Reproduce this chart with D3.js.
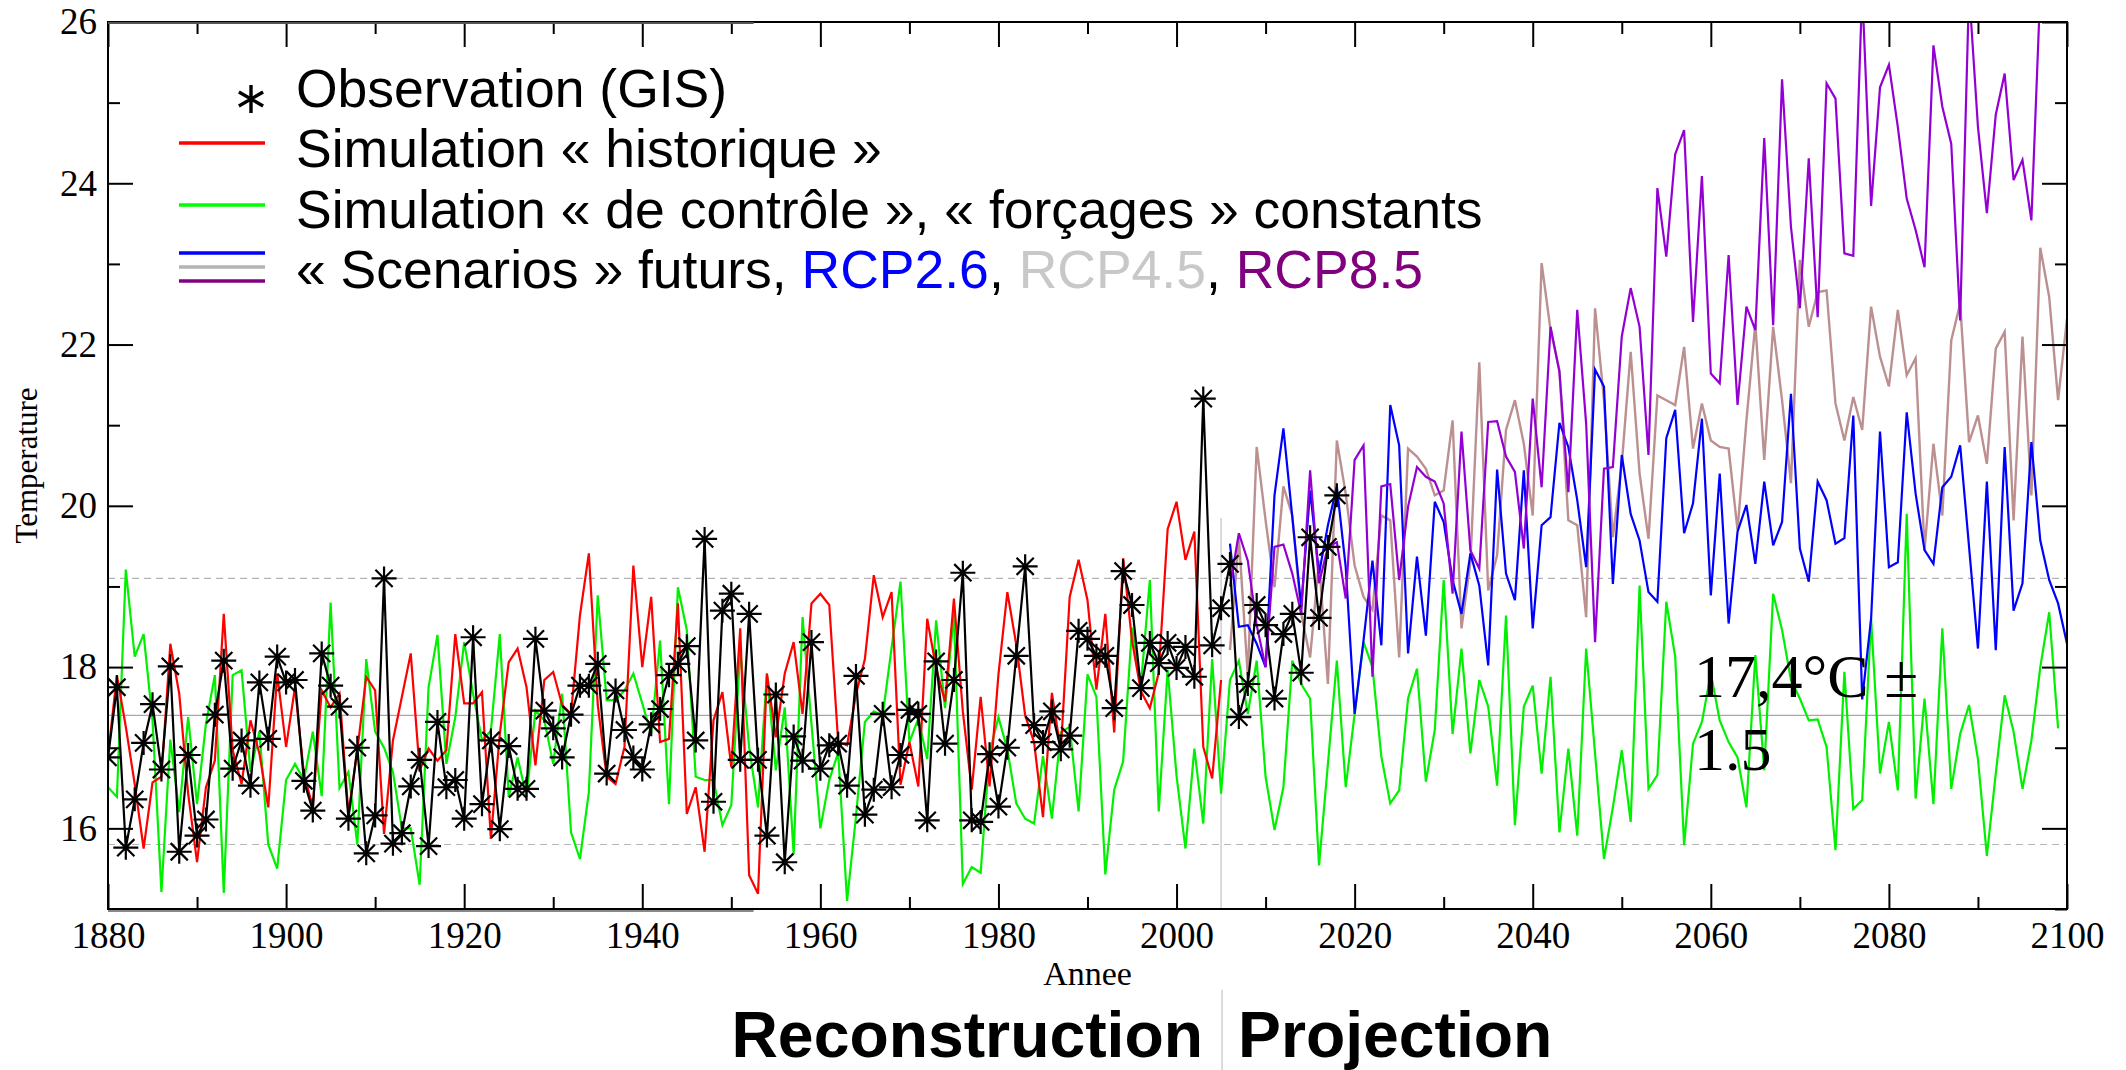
<!DOCTYPE html>
<html>
<head>
<meta charset="utf-8">
<script src="https://cdn.jsdelivr.net/npm/d3@7"></script>
<style>
  html, body { margin: 0; padding: 0; background: #ffffff; }
  svg { display: block; }
</style>
</head>
<body>
<svg id="chart" width="2126" height="1070"></svg>
<script>
// ---------- data (annual mean temperature, °C) ----------
const observationStart = 1880;
const observation = [
  16.88, 17.75, 15.76, 16.36, 17.06, 17.54, 16.73, 18.01, 15.71, 16.91,
  15.91, 16.11, 17.41, 18.08, 16.74, 17.09, 16.53, 17.81, 17.11, 18.13,
  17.81, 17.84, 16.59, 16.22, 18.17, 17.77, 17.51, 16.12, 17.00, 15.69,
  16.16, 19.10, 15.81, 15.94, 16.52, 16.85, 15.78, 17.32, 16.51, 16.60,
  16.12, 18.37, 16.30, 17.09, 15.99, 17.02, 16.49, 16.49, 18.35, 17.46,
  17.24, 16.88, 17.41, 17.77, 17.77, 18.04, 16.68, 17.71, 17.22, 16.88,
  16.73, 17.29, 17.48, 17.90, 18.04, 18.26, 17.09, 19.59, 16.33, 18.70,
  18.91, 16.85, 18.66, 16.85, 15.91, 17.66, 15.58, 17.14, 16.84, 18.31,
  16.74, 17.03, 17.05, 16.53, 17.89, 16.17, 16.48, 17.42, 16.51, 16.91,
  17.47, 17.42, 16.10, 18.07, 17.05, 17.84, 19.17, 16.10, 16.08, 16.92,
  16.27, 17.00, 18.14, 19.25, 17.28, 17.07, 17.45, 16.98, 17.15, 18.45,
  18.35, 18.14, 18.14, 17.49, 19.19, 18.77, 17.74, 18.30, 18.05, 18.30,
  17.99, 18.25, 17.88, 21.33, 18.27, 18.73, 19.28, 17.38, 17.79, 18.77,
  18.52, 17.61, 18.41, 18.66, 17.93, 19.61, 18.61, 19.49, 20.13
];

const historicalStart = 1880;
const historical = [
  16.90, 17.90, 17.26, 16.55, 15.75, 16.57, 16.64, 18.29, 17.67, 16.43,
  15.58, 16.51, 16.84, 18.66, 16.97, 16.55, 17.34, 16.93, 16.26, 17.92,
  17.01, 17.75, 16.68, 16.26, 17.71, 17.50, 17.67, 16.18, 16.97, 17.88,
  17.71, 15.93, 17.09, 17.63, 18.17, 16.72, 16.99, 16.84, 16.97, 18.41,
  17.55, 17.55, 17.69, 15.87, 17.17, 18.06, 18.23, 17.75, 16.78, 17.84,
  17.94, 17.53, 17.42, 18.64, 19.41, 17.53, 16.64, 16.55, 17.01, 19.26,
  18.00, 18.87, 17.07, 17.11, 18.79, 16.18, 16.51, 15.71, 17.34, 17.69,
  16.76, 18.48, 15.42, 15.19, 17.92, 17.13, 17.92, 18.31, 17.42, 18.79,
  18.91, 18.77, 17.07, 17.03, 17.66, 18.10, 19.14, 18.62, 18.93, 16.54,
  17.07, 16.52, 18.60, 17.99, 17.57, 18.85, 17.45, 16.48, 17.63, 16.52,
  17.91, 18.93, 18.28, 17.40, 17.07, 16.14, 17.68, 16.96, 18.87, 19.33,
  18.83, 17.72, 18.66, 17.19, 19.35, 18.33, 17.70, 17.49, 17.93, 19.71,
  20.05, 19.33, 19.68, 17.01, 16.62, 17.84
];

const controlStart = 1880;
const control = [
  16.51, 16.39, 19.21, 18.13, 18.41, 17.34, 15.21, 17.10, 16.20, 17.38,
  16.30, 17.30, 17.90, 15.20, 17.90, 17.96, 16.70, 17.20, 15.80, 15.50,
  16.60, 16.80, 16.60, 17.20, 16.40, 18.80, 16.50, 16.70, 15.80, 18.10,
  17.20, 17.00, 16.70, 16.00, 16.00, 15.30, 17.75, 18.40, 16.80, 17.38,
  18.31, 17.67, 17.09, 17.21, 18.41, 16.39, 16.88, 16.39, 17.46, 17.34,
  16.80, 17.67, 15.95, 15.62, 16.45, 18.89, 17.59, 17.59, 17.71, 17.92,
  17.55, 17.17, 18.33, 16.30, 18.99, 18.46, 16.64, 16.60, 16.60, 16.04,
  16.29, 18.21, 17.01, 16.26, 17.92, 16.72, 17.50, 15.68, 18.62, 17.30,
  16.00, 16.60, 16.94, 15.10, 16.15, 17.32, 17.45, 17.40, 18.24, 19.06,
  17.07, 17.36, 16.86, 18.58, 17.49, 18.66, 15.31, 15.52, 15.45, 16.94,
  17.38, 16.98, 16.31, 16.12, 16.06, 16.90, 16.12, 17.19, 17.26, 16.21,
  17.91, 17.63, 15.43, 16.48, 16.83, 18.49, 17.78, 19.08, 16.21, 17.97,
  16.65, 15.75, 16.99, 16.06, 18.10, 16.43, 17.84, 18.08, 17.42, 18.08,
  16.64, 15.98, 16.51, 18.08, 17.79, 17.61, 15.54, 16.80, 18.08, 16.51,
  17.42, 18.31, 18.00, 16.89, 16.31, 16.47, 17.61, 17.98, 16.58, 17.22,
  19.08, 17.17, 18.23, 16.93, 17.84, 17.51, 16.53, 18.64, 16.04, 17.51,
  17.77, 16.68, 17.88, 15.95, 16.99, 15.91, 18.23, 16.93, 15.62, 16.26,
  16.97, 16.08, 19.01, 16.49, 16.66, 18.81, 18.13, 15.79, 17.05, 17.32,
  17.92, 17.34, 17.07, 16.88, 16.26, 18.15, 16.72, 18.91, 18.46, 17.84,
  17.61, 17.34, 17.35, 17.01, 15.73, 17.94, 16.24, 16.35, 18.60, 16.68,
  17.32, 16.47, 19.90, 16.37, 17.61, 16.30, 18.48, 16.49, 17.17, 17.53,
  16.86, 15.66, 16.68, 17.65, 17.20, 16.49, 17.09, 18.00, 18.68, 17.24
];

const scenarioStart = 2006;
const rcp26 = [
  19.53, 18.50, 18.52, 18.29, 18.00, 20.13, 20.96, 19.86, 18.75, 20.19,
  19.16, 19.76, 20.24, 19.24, 17.42, 18.33, 19.32, 18.27, 21.25, 20.75,
  18.17, 19.37, 18.39, 20.05, 19.80, 19.08, 18.66, 19.41, 19.01, 18.02,
  20.45, 19.16, 18.83, 20.44, 18.48, 19.76, 19.86, 21.03, 20.73, 20.07,
  19.24, 21.69, 21.48, 19.03, 20.63, 19.90, 19.57, 18.93, 18.81, 20.84,
  21.19, 19.66, 20.03, 21.08, 18.89, 20.40, 18.54, 19.68, 20.01, 19.28,
  20.30, 19.51, 19.80, 21.39, 19.47, 19.06, 20.30, 20.07, 19.53, 19.60,
  21.12, 17.60, 18.60, 20.92, 19.24, 19.30, 21.16, 20.15, 19.45, 19.28,
  20.23, 20.36, 20.75, 19.49, 18.23, 20.30, 18.21, 20.73, 18.70, 19.04,
  20.79, 19.57, 19.08, 18.79, 18.29
];
const rcp45 = [
  18.21, 19.60, 17.90, 20.73, 19.82, 18.99, 20.24, 19.88, 18.66, 18.12,
  19.32, 17.79, 20.81, 20.15, 19.26, 18.87, 18.71, 19.88, 19.82, 18.12,
  20.71, 20.61, 20.46, 20.13, 20.19, 21.06, 18.48, 19.30, 21.78, 18.95,
  19.39, 20.94, 21.31, 20.77, 19.88, 23.01, 22.18, 21.68, 19.82, 19.76,
  18.62, 22.45, 21.31, 19.61, 20.52, 21.91, 20.40, 19.59, 21.37, 21.31,
  21.25, 21.97, 20.71, 21.27, 20.81, 20.73, 20.71, 19.70, 21.06, 22.26,
  20.57, 22.22, 21.31, 20.28, 23.05, 22.22, 22.65, 22.67, 21.27, 20.81,
  21.35, 20.94, 22.47, 21.85, 21.48, 22.43, 21.62, 21.83, 19.45, 20.77,
  19.88, 22.05, 22.51, 20.79, 21.12, 20.52, 21.95, 22.16, 19.82, 22.10,
  20.13, 23.20, 22.59, 21.31, 22.32
];
const rcp85 = [
  19.00, 19.66, 19.32, 18.52, 18.00, 19.49, 19.52, 19.16, 18.66, 20.44,
  19.04, 19.49, 19.55, 18.85, 20.57, 20.75, 17.88, 20.24, 20.27, 19.08,
  19.99, 20.48, 20.36, 20.30, 20.03, 18.91, 20.92, 19.45, 19.22, 21.04,
  21.05, 20.61, 20.42, 19.47, 21.33, 20.23, 22.22, 21.66, 20.17, 22.43,
  21.02, 18.31, 20.46, 20.48, 22.10, 22.70, 22.22, 20.63, 23.94, 23.09,
  24.36, 24.66, 22.28, 24.09, 21.64, 21.52, 23.11, 21.25, 22.47, 22.18,
  24.56, 22.24, 25.29, 23.46, 22.45, 24.31, 22.34, 25.24, 25.05, 23.13,
  23.10, 26.40, 23.72, 25.19, 25.47, 24.70, 23.81, 23.42, 22.96, 25.71,
  24.95, 24.49, 22.30, 26.40, 24.70, 23.63, 24.85, 25.36, 24.04, 24.29,
  23.54, 26.40
];

// reference levels of the control run: mean and spread
const controlMean = 17.4;
const controlBand = [15.8, 19.1];
const splitYear = 2005;          // end of reconstruction / start of projection
const splitTop = 19.85;

// axis ticks
const xMajorTicks = [1880, 1900, 1920, 1940, 1960, 1980, 2000, 2020, 2040, 2060, 2080, 2100];
const xMinorTicks = [1890, 1910, 1930, 1950, 1970, 1990, 2010, 2030, 2050, 2070, 2090];
const yMajorTicks = [16, 18, 20, 22, 24, 26];
const yMinorTicks = [15, 17, 19, 21, 23, 25];

// ---------- layout ----------
const svg = d3.select("#chart");
const W = 2126, H = 1070;
const plot = { left: 108, right: 2067, top: 22, bottom: 909 };

const x = d3.scaleLinear().domain([1880, 2100]).range([plot.left, plot.right]);
const y = d3.scaleLinear().domain([15, 26]).range([plot.bottom, plot.top]);

const serif = "'Liberation Serif', 'Times New Roman', serif";
const sans = "'Liberation Sans', Arial, Helvetica, sans-serif";

svg.append("rect").attr("width", W).attr("height", H).attr("fill", "#ffffff");

const defs = svg.append("defs");
defs.append("clipPath").attr("id", "plot-clip")
  .append("rect")
  .attr("x", plot.left).attr("y", plot.top)
  .attr("width", plot.right - plot.left).attr("height", plot.bottom - plot.top);

// ---------- reference lines ----------
const refs = svg.append("g");
controlBand.forEach(v => {
  refs.append("line")
    .attr("x1", plot.left).attr("x2", plot.right)
    .attr("y1", y(v)).attr("y2", y(v))
    .attr("stroke", "#b4b4b4").attr("stroke-width", 1.2)
    .attr("stroke-dasharray", "7,5");
});
refs.append("line")
  .attr("x1", plot.left).attr("x2", plot.right)
  .attr("y1", y(controlMean)).attr("y2", y(controlMean))
  .attr("stroke", "#a8a8a8").attr("stroke-width", 1.2);
refs.append("line")
  .attr("x1", x(splitYear)).attr("x2", x(splitYear))
  .attr("y1", y(splitTop)).attr("y2", plot.bottom)
  .attr("stroke", "#c4c4c4").attr("stroke-width", 1.2);

// ---------- series ----------
function toPoints(values, start) {
  return values.map((v, i) => ({ year: start + i, value: v }));
}
const line = d3.line().x(d => x(d.year)).y(d => y(d.value)).curve(d3.curveLinear);

const series = [
  { values: control,    start: controlStart,    color: "#00f000", width: 2.2 },
  { values: historical, start: historicalStart, color: "#ff0000", width: 2.2 },
  { values: rcp45,      start: scenarioStart,   color: "#bc9090", width: 2.4 },
  { values: rcp26,      start: scenarioStart,   color: "#0000ff", width: 2.2 },
  { values: rcp85,      start: scenarioStart,   color: "#9400d3", width: 2.2 }
];

const lines = svg.append("g").attr("clip-path", "url(#plot-clip)");
series.forEach(s => {
  lines.append("path")
    .datum(toPoints(s.values, s.start))
    .attr("d", line)
    .attr("fill", "none")
    .attr("stroke", s.color)
    .attr("stroke-width", s.width)
    .attr("stroke-linejoin", "miter");
});

// observations: black line with asterisk markers
const obsPts = toPoints(observation, observationStart);
lines.append("path")
  .datum(obsPts)
  .attr("d", line)
  .attr("fill", "none")
  .attr("stroke", "#000000")
  .attr("stroke-width", 2.2);

const starPath = "M-12.5,0H12.5M0,-12V12M-8.6,-8.6L8.6,8.6M-8.6,8.6L8.6,-8.6";
lines.append("g").selectAll("path")
  .data(obsPts)
  .join("path")
  .attr("transform", d => `translate(${x(d.year)},${y(d.value)})`)
  .attr("d", starPath)
  .attr("fill", "none")
  .attr("stroke", "#000000")
  .attr("stroke-width", 2.2);

// ---------- axes ----------
function styleAxis(g) {
  g.selectAll(".domain").remove();
  g.selectAll(".tick line").attr("stroke", "#000").attr("stroke-width", 2);
  g.selectAll(".tick text").attr("font-family", serif).attr("font-size", 37).attr("fill", "#000");
}

// bottom
svg.append("g").attr("transform", `translate(0,${plot.bottom})`)
  .call(d3.axisBottom(x).tickValues(xMajorTicks).tickSizeInner(-25).tickSizeOuter(0)
        .tickPadding(13).tickFormat(d3.format("d")))
  .call(styleAxis);
svg.append("g").attr("transform", `translate(0,${plot.bottom})`)
  .call(d3.axisBottom(x).tickValues(xMinorTicks).tickSizeInner(-12).tickSizeOuter(0).tickFormat(""))
  .call(styleAxis);
// top
svg.append("g").attr("transform", `translate(0,${plot.top})`)
  .call(d3.axisTop(x).tickValues(xMajorTicks).tickSizeInner(-25).tickSizeOuter(0).tickFormat(""))
  .call(styleAxis);
svg.append("g").attr("transform", `translate(0,${plot.top})`)
  .call(d3.axisTop(x).tickValues(xMinorTicks).tickSizeInner(-12).tickSizeOuter(0).tickFormat(""))
  .call(styleAxis);
// left
svg.append("g").attr("transform", `translate(${plot.left},0)`)
  .call(d3.axisLeft(y).tickValues(yMajorTicks).tickSizeInner(-25).tickSizeOuter(0)
        .tickPadding(11).tickFormat(d3.format("d")))
  .call(styleAxis);
svg.append("g").attr("transform", `translate(${plot.left},0)`)
  .call(d3.axisLeft(y).tickValues(yMinorTicks).tickSizeInner(-12).tickSizeOuter(0).tickFormat(""))
  .call(styleAxis);
// right
svg.append("g").attr("transform", `translate(${plot.right},0)`)
  .call(d3.axisRight(y).tickValues(yMajorTicks).tickSizeInner(-25).tickSizeOuter(0).tickFormat(""))
  .call(styleAxis);
svg.append("g").attr("transform", `translate(${plot.right},0)`)
  .call(d3.axisRight(y).tickValues(yMinorTicks).tickSizeInner(-12).tickSizeOuter(0).tickFormat(""))
  .call(styleAxis);

// frame
svg.append("rect")
  .attr("x", plot.left).attr("y", plot.top)
  .attr("width", plot.right - plot.left).attr("height", plot.bottom - plot.top)
  .attr("fill", "none").attr("stroke", "#000").attr("stroke-width", 2);
// heavier stretch of the top and bottom frame on the left half
svg.append("line").attr("x1", plot.left).attr("x2", x(1952.5))
  .attr("y1", plot.top + 1).attr("y2", plot.top + 1)
  .attr("stroke", "#555").attr("stroke-width", 2);
svg.append("line").attr("x1", plot.left).attr("x2", x(1952.5))
  .attr("y1", plot.bottom + 2).attr("y2", plot.bottom + 2)
  .attr("stroke", "#888").attr("stroke-width", 2);

// axis titles
svg.append("text")
  .attr("x", (plot.left + plot.right) / 2).attr("y", 985)
  .attr("text-anchor", "middle")
  .attr("font-family", serif).attr("font-size", 34)
  .text("Annee");
svg.append("text")
  .attr("transform", `translate(37,${(plot.top + plot.bottom) / 2}) rotate(-90)`)
  .attr("text-anchor", "middle")
  .attr("font-family", serif).attr("font-size", 31)
  .text("Temperature");

// ---------- annotation of the control run ----------
const note = svg.append("text")
  .attr("font-family", serif).attr("font-size", 62).attr("fill", "#000");
note.append("tspan").attr("x", 1694).attr("y", 697).text("17,4°C ±");
note.append("tspan").attr("x", 1694).attr("y", 770).text("1.5");

// ---------- legend ----------
const legend = svg.append("g").attr("font-family", sans).attr("font-size", 53.5).attr("fill", "#000");
const legX0 = 179, legX1 = 265, legTextX = 296;

legend.append("path")
  .attr("transform", "translate(251,99)")
  .attr("d", "M0,-14V14M-12.1,-7L12.1,7M-12.1,7L12.1,-7")
  .attr("stroke", "#000").attr("stroke-width", 3.4).attr("fill", "none");
legend.append("text").attr("x", legTextX).attr("y", 107).text("Observation (GIS)");

legend.append("line").attr("x1", legX0).attr("x2", legX1).attr("y1", 143).attr("y2", 143)
  .attr("stroke", "#ff0000").attr("stroke-width", 3.5);
legend.append("text").attr("x", legTextX).attr("y", 167).text("Simulation « historique »");

legend.append("line").attr("x1", legX0).attr("x2", legX1).attr("y1", 205).attr("y2", 205)
  .attr("stroke", "#00ff00").attr("stroke-width", 3.5);
legend.append("text").attr("x", legTextX).attr("y", 228)
  .text("Simulation « de contrôle », « forçages » constants");

[[253, "#0000ff"], [267, "#b4b4b4"], [281, "#800080"]].forEach(([yy, c]) => {
  legend.append("line").attr("x1", legX0).attr("x2", legX1).attr("y1", yy).attr("y2", yy)
    .attr("stroke", c).attr("stroke-width", 3.5);
});
const scen = legend.append("text").attr("x", legTextX).attr("y", 288);
scen.append("tspan").text("« Scenarios » futurs, ");
scen.append("tspan").attr("fill", "#0000ff").text("RCP2.6");
scen.append("tspan").text(", ");
scen.append("tspan").attr("fill", "#c8c8c8").text("RCP4.5");
scen.append("tspan").text(", ");
scen.append("tspan").attr("fill", "#800080").text("RCP8.5");

// ---------- period labels ----------
svg.append("line")
  .attr("x1", x(splitYear) + 1).attr("x2", x(splitYear) + 1)
  .attr("y1", 990).attr("y2", H)
  .attr("stroke", "#c4c4c4").attr("stroke-width", 1.2);
svg.append("text")
  .attr("x", 1203).attr("y", 1057)
  .attr("text-anchor", "end")
  .attr("font-family", sans).attr("font-weight", "bold").attr("font-size", 64.3)
  .text("Reconstruction");
svg.append("text")
  .attr("x", 1238).attr("y", 1057)
  .attr("font-family", sans).attr("font-weight", "bold").attr("font-size", 64.3)
  .text("Projection");
</script>
</body>
</html>
